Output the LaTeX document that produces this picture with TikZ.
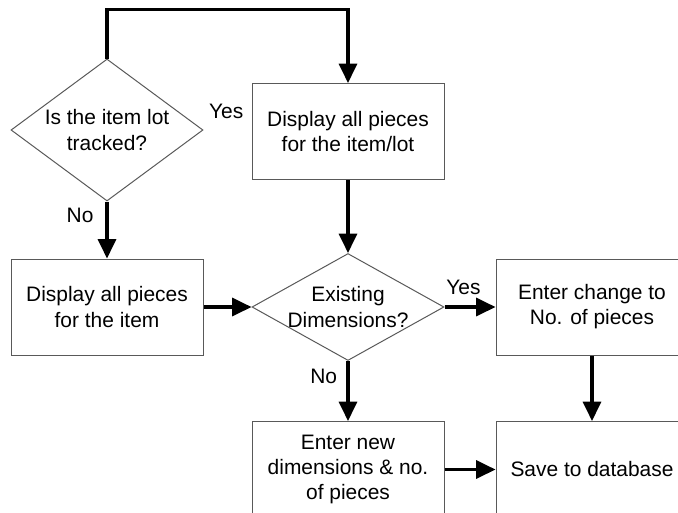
\documentclass[tikz,border=0pt]{standalone}
\usepackage{fontspec}
\setmainfont{Liberation Sans}
\usetikzlibrary{arrows.meta,positioning,shapes.geometric}
\tikzset{
  every node/.style={font=\fontsize{15.7}{18.8}\selectfont},
  procblk/.style={draw=black!65,rectangle,line width=0.75pt,minimum width=144pt,minimum height=72pt,align=center,inner sep=0pt},
  decblk/.style={draw=black!65,diamond,line width=0.75pt,minimum width=144pt,inner sep=0pt},
  arr/.style={-{Triangle[length=14.5pt,width=13.5pt]},line width=2.4pt},
  lbl/.style={inner sep=2pt}
}
\begin{document}
\begin{tikzpicture}[x=0.75pt,y=-0.75pt]
  \useasboundingbox (0,0) rectangle (678,512);
  \clip (0,0) rectangle (678,512);

  \node[decblk, minimum height=106.5pt, label={[align=center]center:Is the item lot\\tracked?}] (lotq) at (107,130) {};
  \node[procblk, below=42.75pt of lotq] (allitem) {Display all pieces\\for the item};
  \node[decblk, minimum height=80.25pt, right=36pt of allitem, label={[align=center]center:Existing\\Dimensions?}] (dimq) {};
  \node[procblk, above=54.75pt of dimq] (alllot) {Display all pieces\\for the item/lot};
  \node[procblk, right=38.25pt of dimq] (change) {Enter change to\\No. of pieces};
  \node[procblk, below=45pt of dimq] (newdim) {Enter new\\dimensions \& no.\\of pieces};
  \node[procblk, right=38.25pt of newdim] (save) {Save to database};
  \node[lbl, anchor=east] at ([xshift=-4pt,yshift=15pt]alllot.west) {Yes};

  \draw[arr] (lotq.north) -- ++(0,-49) -| (alllot.north);
  \draw[arr] (lotq) -- node[lbl, left=7pt, pos=0.25] {No} (allitem);
  \draw[arr] (alllot) -- (dimq);
  \draw[arr] (allitem) -- (dimq);
  \draw[arr] (dimq) -- node[lbl, above=6pt, pos=0.37] {Yes} (change);
  \draw[arr] (dimq) -- node[lbl, left=5pt, pos=0.26] {No} (newdim);
  \draw[arr] (change) -- (save);
  \draw[arr] (newdim) -- (save);
\end{tikzpicture}
\end{document}
